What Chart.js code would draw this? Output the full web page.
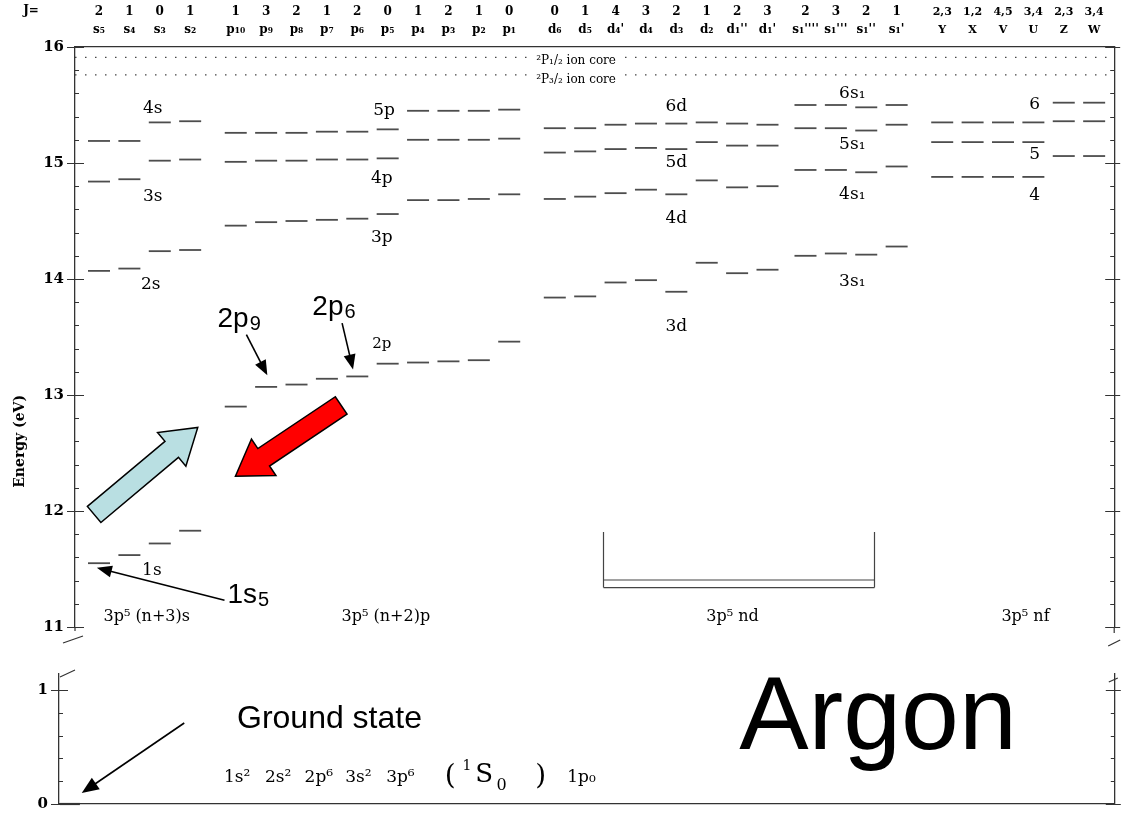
<!DOCTYPE html>
<html lang="en">
<head>
<meta charset="UTF-8">
<title>Argon energy levels</title>
<script src="https://cdn.jsdelivr.net/npm/chart.js"></script>
<style>
  html, body { margin: 0; padding: 0; background: #fff; overflow: hidden; }
  #wrap { position: relative; width: 1127px; height: 824px; }
  #top { position: absolute; left: 0; top: 0; width: 1127px; height: 650px; }
  #bot { position: absolute; left: 0; top: 649px; width: 1127px; height: 175px; }
</style>
</head>
<body>
<div id="wrap">
  <div id="top"><canvas id="upper"></canvas></div>
  <div id="bot"><canvas id="lower"></canvas></div>
</div>
<script>
// column headers (Paschen names and J)
var sNames = ['s₅', 's₄', 's₃', 's₂'];
var sJ = ['2', '1', '0', '1'];
var pNames = ['p₁₀', 'p₉', 'p₈', 'p₇', 'p₆', 'p₅', 'p₄', 'p₃', 'p₂', 'p₁'];
var pJ = ['1', '3', '2', '1', '2', '0', '1', '2', '1', '0'];
var dNames = ['d₆', 'd₅', "d₄'", 'd₄', 'd₃', 'd₂', "d₁''", "d₁'"];
var dJ = ['0', '1', '4', '3', '2', '1', '2', '3'];
var s1Names = ["s₁''''", "s₁'''", "s₁''", "s₁'"];
var s1J = ['2', '3', '2', '1'];
var fNames = ['Y', 'X', 'V', 'U', 'Z', 'W'];
var fJ = ['2,3', '1,2', '4,5', '3,4', '2,3', '3,4'];

// level energies in eV, one value per column of the group
var e1s = [11.55, 11.62, 11.72, 11.83];
var e2s = [14.07, 14.09, 14.24, 14.25];
var e3s = [14.84, 14.86, 15.02, 15.03];
var e4s = [15.19, 15.19, 15.35, 15.36];
var e2p = [12.90, 13.07, 13.09, 13.14, 13.16, 13.27, 13.28, 13.29, 13.30, 13.46];
var e3p = [14.46, 14.49, 14.50, 14.51, 14.52, 14.56, 14.68, 14.68, 14.69, 14.73];
var e4p = [15.01, 15.02, 15.02, 15.03, 15.03, 15.04, 15.20, 15.20, 15.20, 15.21];
var e5p = [15.26, 15.26, 15.26, 15.27, 15.27, 15.29, 15.45, 15.45, 15.45, 15.46];
var e3d = [13.84, 13.85, 13.97, 13.99, 13.89, 14.14, 14.05, 14.08];
var e4d = [14.69, 14.71, 14.74, 14.77, 14.73, 14.85, 14.79, 14.80];
var e5d = [15.09, 15.10, 15.12, 15.13, 15.12, 15.18, 15.15, 15.15];
var e6d = [15.30, 15.30, 15.33, 15.34, 15.34, 15.35, 15.34, 15.33];
var e3s1 = [14.20, 14.22, 14.21, 14.28];
var e4s1 = [14.94, 14.94, 14.92, 14.97];
var e5s1 = [15.30, 15.30, 15.28, 15.33];
var e6s1 = [15.50, 15.50, 15.48, 15.50];
var e4f = [14.88, 14.88, 14.88, 14.88, 15.06, 15.06];
var e5f = [15.18, 15.18, 15.18, 15.18, 15.36, 15.36];
var e6f = [15.35, 15.35, 15.35, 15.35, 15.52, 15.52];
var ionCore = [15.91, 15.76];   // 2P1/2 and 2P3/2 limits
var ground = [0];

// column slots: each group starts a bit after the previous one
function cols(start, n) { var a = []; for (var i = 0; i < n; i++) a.push(start + i); return a; }
var sX = cols(1, 4), pX = cols(5.5, 10), dX = cols(16, 8), s1X = cols(24.25, 4), fX = cols(28.75, 6);
var headX = sX.concat(pX, dX, s1X, fX);
var headJ = sJ.concat(pJ, dJ, s1J, fJ);
var headName = sNames.concat(pNames, dNames, s1Names, fNames);

var SERIF = '"DejaVu Serif", "Liberation Serif", serif';
var SANS = '"Liberation Sans", Arial, sans-serif';
var LEVEL = '#4d4d4d';

function levelSet(xs, es) {
  return {
    type: 'scatter',
    data: es.map(function (e, i) { return { x: xs[i], y: e }; }),
    pointStyle: 'line',
    pointRadius: 11,
    pointBorderWidth: 1.8,
    pointBorderColor: LEVEL,
    clip: false
  };
}

var upperSets = [
  levelSet(sX, e1s), levelSet(sX, e2s), levelSet(sX, e3s), levelSet(sX, e4s),
  levelSet(pX, e2p), levelSet(pX, e3p), levelSet(pX, e4p), levelSet(pX, e5p),
  levelSet(dX, e3d), levelSet(dX, e4d), levelSet(dX, e5d), levelSet(dX, e6d),
  levelSet(s1X, e3s1), levelSet(s1X, e4s1), levelSet(s1X, e5s1), levelSet(s1X, e6s1),
  levelSet(fX, e4f), levelSet(fX, e5f), levelSet(fX, e6f)
];
ionCore.forEach(function (v) {
  upperSets.push({
    type: 'line',
    data: [{ x: 0.21, y: v }, { x: 34.41, y: v }],
    borderColor: '#444', borderWidth: 1.3, borderDash: [1.5, 8.5], pointRadius: 0
  });
});

// text labels beside the levels [text, x slot, energy, size]
var levelNotes = [
  ['4s', 2.77, 15.47, 17], ['3s', 2.77, 14.71, 17], ['2s', 2.70, 13.95, 17], ['1s', 2.74, 11.49, 17],
  ['5p', 10.38, 15.45, 17], ['4p', 10.31, 14.87, 17], ['3p', 10.31, 14.36, 17], ['2p', 10.31, 13.44, 15],
  ['6d', 20.0, 15.49, 17], ['5d', 20.0, 15.0, 17], ['4d', 20.0, 14.52, 17], ['3d', 20.0, 13.59, 17],
  ['6s₁', 25.79, 15.60, 17], ['5s₁', 25.79, 15.16, 17], ['4s₁', 25.79, 14.73, 17], ['3s₁', 25.79, 13.98, 17],
  ['6', 31.79, 15.50, 17], ['5', 31.79, 15.07, 17], ['4', 31.79, 14.72, 17]
];
var groupNotes = [
  ['3p⁵ (n+3)s', 2.57, 11.09], ['3p⁵ (n+2)p', 10.44, 11.09],
  ['3p⁵ nd', 21.85, 11.09], ['3p⁵ nf', 31.49, 11.09]
];
// ground configuration terms and their slots
var configTerms = ['1s²', '2s²', '2p⁶', '3s²', '3p⁶'];
var configX = [5.13, 6.48, 7.79, 9.13, 10.48];

function arrow(ctx, x0, y0, x1, y1, hl, hw) {
  var ang = Math.atan2(y1 - y0, x1 - x0), len = Math.hypot(x1 - x0, y1 - y0);
  ctx.save();
  ctx.translate(x0, y0); ctx.rotate(ang);
  ctx.strokeStyle = '#000'; ctx.fillStyle = '#000'; ctx.lineWidth = 1.6;
  ctx.beginPath(); ctx.moveTo(0, 0); ctx.lineTo(len - hl + 1, 0); ctx.stroke();
  ctx.beginPath(); ctx.moveTo(len, 0); ctx.lineTo(len - hl, -hw / 2); ctx.lineTo(len - hl, hw / 2); ctx.closePath(); ctx.fill();
  ctx.restore();
}

function blockArrow(ctx, x0, y0, x1, y1, sw, hw, hl, fill) {
  var ang = Math.atan2(y1 - y0, x1 - x0), len = Math.hypot(x1 - x0, y1 - y0);
  ctx.save();
  ctx.translate(x0, y0); ctx.rotate(ang);
  ctx.beginPath();
  ctx.moveTo(0, -sw / 2); ctx.lineTo(len - hl, -sw / 2); ctx.lineTo(len - hl, -hw / 2);
  ctx.lineTo(len, 0);
  ctx.lineTo(len - hl, hw / 2); ctx.lineTo(len - hl, sw / 2); ctx.lineTo(0, sw / 2);
  ctx.closePath();
  ctx.fillStyle = fill; ctx.fill();
  ctx.strokeStyle = '#000'; ctx.lineWidth = 1.5; ctx.stroke();
  ctx.restore();
}

function subLabel(ctx, main, sub, X, Y, size) {
  ctx.font = size + 'px ' + SANS;
  ctx.textAlign = 'left'; ctx.textBaseline = 'alphabetic'; ctx.fillStyle = '#000';
  ctx.fillText(main, X, Y);
  var w = ctx.measureText(main).width;
  ctx.font = Math.round(size * 0.72) + 'px ' + SANS;
  ctx.fillText(sub, X + w + 1, Y + size * 0.12);
}

function drawTicks(ctx, ys, a) {
  ctx.strokeStyle = '#333'; ctx.lineWidth = 1;
  ys.ticks.forEach(function (t) {
    var y = Math.round(ys.getPixelForValue(t.value)) + 0.5;
    var major = Math.abs(t.value - Math.round(t.value)) < 1e-6;
    ctx.beginPath();
    if (major) {
      ctx.moveTo(a.left - 8, y); ctx.lineTo(a.left + 9, y);
      ctx.moveTo(a.right - 9, y); ctx.lineTo(a.right + 6, y);
    } else {
      ctx.moveTo(a.left, y); ctx.lineTo(a.left + 4, y);
      ctx.moveTo(a.right - 4, y); ctx.lineTo(a.right, y);
    }
    ctx.stroke();
  });
}

var upperDeco = {
  id: 'upperDeco',
  afterDraw: function (chart) {
    var ctx = chart.ctx, xs = chart.scales.x, ys = chart.scales.y, a = chart.chartArea;
    function px(v) { return xs.getPixelForValue(v); }
    function py(v) { return ys.getPixelForValue(v); }
    ctx.save();
    drawTicks(ctx, ys, a);

    // broken-axis marks below the upper panel
    ctx.strokeStyle = '#333'; ctx.lineWidth = 1.2;
    ctx.beginPath();
    ctx.moveTo(a.left, a.bottom); ctx.lineTo(a.left, a.bottom + 4);
    ctx.moveTo(a.left - 12, a.bottom + 16); ctx.lineTo(a.left + 8, a.bottom + 9);
    ctx.moveTo(a.right, a.bottom); ctx.lineTo(a.right, a.bottom + 6);
    ctx.moveTo(a.right - 6, a.bottom + 19); ctx.lineTo(a.right + 6, a.bottom + 13);
    ctx.stroke();

    // J= header and axis title
    ctx.fillStyle = '#000';
    ctx.font = 'bold 12px ' + SERIF; ctx.textAlign = 'center'; ctx.textBaseline = 'middle';
    ctx.fillText('J=', 31, 11);
    ctx.save();
    ctx.translate(20, py(12.60)); ctx.rotate(-Math.PI / 2);
    ctx.font = 'bold 14px ' + SERIF;
    ctx.fillText('Energy (eV)', 0, 0);
    ctx.restore();

    // ion core labels over the dotted limits
    ctx.font = '12px ' + SERIF;
    [['²P₁/₂ ion core', 15.88], ['²P₃/₂ ion core', 15.72]].forEach(function (n) {
      var w = ctx.measureText(n[0]).width, X = px(16.70), Y = py(n[1]);
      ctx.fillStyle = '#fff'; ctx.fillRect(X - w / 2 - 2, Y - 7, w + 4, 14);
      ctx.fillStyle = '#000'; ctx.fillText(n[0], X, Y);
    });

    levelNotes.forEach(function (n) {
      ctx.font = n[3] + 'px ' + SERIF;
      ctx.fillText(n[0], px(n[1]), py(n[2]));
    });
    ctx.font = '16px ' + SERIF;
    groupNotes.forEach(function (n) { ctx.fillText(n[0], px(n[1]), py(n[2])); });

    // bracket under the nd group
    var bl = Math.round(px(17.59)) + 0.5, br = Math.round(px(26.5)) + 0.5;
    ctx.strokeStyle = '#444'; ctx.lineWidth = 1.2;
    ctx.beginPath();
    ctx.moveTo(bl, py(11.82)); ctx.lineTo(bl, py(11.34));
    ctx.moveTo(br, py(11.82)); ctx.lineTo(br, py(11.34));
    ctx.moveTo(bl, py(11.405)); ctx.lineTo(br, py(11.405));
    ctx.moveTo(bl, py(11.34)); ctx.lineTo(br, py(11.34));
    ctx.stroke();

    // excitation / de-excitation arrows
    blockArrow(ctx, px(0.84), py(11.97), px(4.25), py(12.72), 21, 44, 34, '#b9dfe2');
    blockArrow(ctx, px(8.97), py(12.91), px(5.49), py(12.30), 21, 44, 34, '#ff0000');

    subLabel(ctx, '2p', '9', px(4.90), py(13.586), 28);
    subLabel(ctx, '2p', '6', px(8.02), py(13.69), 28);
    subLabel(ctx, '1s', '5', px(5.23), py(11.207), 28);
    arrow(ctx, px(5.85), py(13.52), px(6.54), py(13.17), 15, 12);
    arrow(ctx, px(9.0), py(13.62), px(9.36), py(13.22), 15, 12);
    arrow(ctx, px(5.13), py(11.23), px(0.93), py(11.51), 15, 12);
    ctx.restore();
  }
};

var lowerDeco = {
  id: 'lowerDeco',
  afterDraw: function (chart) {
    var ctx = chart.ctx, xs = chart.scales.x, ys = chart.scales.y, a = chart.chartArea;
    function px(v) { return xs.getPixelForValue(v); }
    function py(v) { return ys.getPixelForValue(v); }
    ctx.save();
    drawTicks(ctx, ys, a);
    ctx.strokeStyle = '#333'; ctx.lineWidth = 1.2;
    ctx.beginPath();
    ctx.moveTo(a.left + 1, a.top + 3); ctx.lineTo(a.left + 16, a.top - 4);
    ctx.moveTo(a.right - 6, a.top + 8); ctx.lineTo(a.right + 3, a.top + 4);
    ctx.stroke();

    subLabel(ctx, 'Ground state', '', px(5.56), py(0.664), 32);
    arrow(ctx, px(3.82), py(0.71), px(0.44), py(0.096), 17, 14);

    ctx.fillStyle = '#000'; ctx.textBaseline = 'alphabetic';
    ctx.font = '104px ' + SANS; ctx.textAlign = 'center';
    ctx.fillText('Argon', px(26.70), py(0.48));

    ctx.textAlign = 'left';
    ctx.font = '17px ' + SERIF;
    configTerms.forEach(function (t, i) { ctx.fillText(t, px(configX[i]), py(0.19)); });
    ctx.font = '28px ' + SERIF;
    ctx.fillText('(', px(12.41), py(0.175));
    ctx.fillText(')', px(15.40), py(0.175));
    ctx.font = '14px ' + SERIF;
    ctx.fillText('1', px(13.0), py(0.30));
    ctx.font = '26px ' + SERIF;
    ctx.fillText('S', px(13.42), py(0.19));
    ctx.font = '16px ' + SERIF;
    ctx.fillText('0', px(14.12), py(0.12));
    ctx.font = '17px ' + SERIF;
    ctx.fillText('1p₀', px(16.45), py(0.19));
    ctx.restore();
  }
};

function yAxis(min, max, width) {
  return {
    type: 'linear', position: 'left', min: min, max: max,
    grid: { display: false, drawTicks: false },
    border: { display: true, color: '#333', width: 1.3 },
    ticks: {
      stepSize: 0.2, includeBounds: false, autoSkip: false, padding: 11,
      color: '#000', font: { family: SERIF, size: 15, weight: 'bold' },
      callback: function (v) { return Math.abs(v - Math.round(v)) < 1e-6 ? String(Math.round(v)) : ''; }
    },
    afterFit: function (s) { s.width = width; }
  };
}
function rightAxis(min, max, width) {
  return {
    type: 'linear', position: 'right', min: min, max: max,
    grid: { display: false, drawTicks: false },
    border: { display: true, color: '#333', width: 1.3 },
    ticks: { display: false },
    afterFit: function (s) { s.width = width; }
  };
}

new Chart(document.getElementById('upper'), {
  data: { datasets: upperSets },
  options: {
    responsive: true, maintainAspectRatio: false, animation: false, events: [],
    layout: { padding: { top: 0, bottom: 23, left: 0, right: 0 } },
    plugins: { legend: { display: false }, tooltip: { enabled: false } },
    scales: {
      x: {
        type: 'linear', position: 'top', min: 0.21, max: 34.41,
        grid: { display: false, drawTicks: false },
        border: { display: true, color: '#333', width: 1.3 },
        afterBuildTicks: function (s) { s.ticks = headX.map(function (v) { return { value: v }; }); },
        afterFit: function (s) { s.height = 47; },
        ticks: {
          autoSkip: false, maxRotation: 0, padding: 8, color: '#000',
          font: function (c) {
            return { family: SERIF, size: c.index >= 26 ? 11 : 12, weight: 'bold', lineHeight: '18px' };
          },
          callback: function (v, i) { return [headJ[i], headName[i]]; }
        }
      },
      y: yAxis(11, 16, 75),
      y2: rightAxis(11, 16, 9)
    }
  },
  plugins: [upperDeco]
});

new Chart(document.getElementById('lower'), {
  data: {
    datasets: [{
      type: 'scatter',
      data: ground.map(function (e) { return { x: 0.05, y: e }; }),
      pointStyle: 'line', pointRadius: 10, pointBorderWidth: 2.2, pointBorderColor: '#333', clip: false
    }]
  },
  options: {
    responsive: true, maintainAspectRatio: false, animation: false, events: [],
    layout: { padding: { top: 25, bottom: 8, left: 0, right: 0 } },
    plugins: { legend: { display: false }, tooltip: { enabled: false } },
    scales: {
      x: {
        type: 'linear', position: 'bottom', min: -0.31, max: 34.51,
        grid: { display: false, drawTicks: false },
        border: { display: true, color: '#333', width: 1.3 },
        ticks: { display: false },
        afterFit: function (s) { s.height = 0; }
      },
      y: yAxis(0, 1.14, 59),
      y2: rightAxis(0, 1.14, 6)
    }
  },
  plugins: [lowerDeco]
});
</script>
</body>
</html>
